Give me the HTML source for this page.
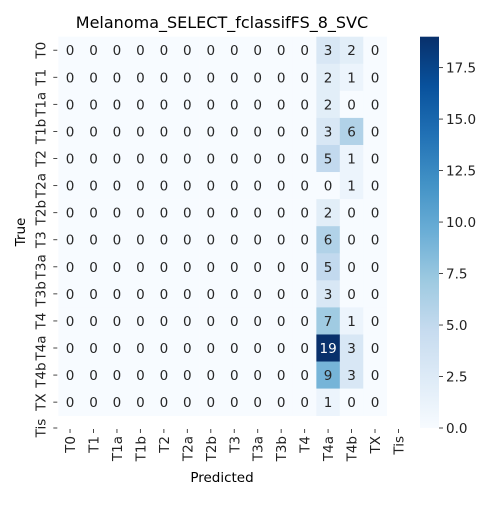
<!DOCTYPE html>
<html><head><meta charset="utf-8"><style>
body{margin:0;background:#fff;width:500px;height:500px;overflow:hidden}
svg text{font-family:"DejaVu Sans","Liberation Sans",sans-serif;}
</style></head><body>
<svg id="chart" width="500" height="500" xmlns="http://www.w3.org/2000/svg">
<defs><linearGradient id="cbg" x1="0" y1="1" x2="0" y2="0">
<stop offset="0" stop-color="#f7fbff"/><stop offset="0.125" stop-color="#deebf7"/><stop offset="0.25" stop-color="#c6dbef"/><stop offset="0.375" stop-color="#9ecae1"/><stop offset="0.5" stop-color="#6baed6"/><stop offset="0.625" stop-color="#4292c6"/><stop offset="0.75" stop-color="#2171b5"/><stop offset="0.875" stop-color="#08519c"/><stop offset="1" stop-color="#08306b"/></linearGradient></defs>
<text x="222" y="28" font-size="16" text-anchor="middle">Melanoma_SELECT_fclassifFS_8_SVC</text>
<text x="222" y="482" font-size="13.5" text-anchor="middle">Predicted</text>
<text transform="translate(25,232) rotate(-90)" font-size="13.5" text-anchor="middle">True</text>
<g id="cells"></g><g id="ticks"></g>
<rect x="420" y="36.7" width="19" height="391.3" fill="url(#cbg)"/>
<g id="cbticks"></g>
</svg>
<script>
const labels=["T0","T1","T1a","T1b","T2","T2a","T2b","T3","T3a","T3b","T4","T4a","T4b","TX","Tis"];
const colT4a=[3,2,2,3,5,0,2,6,5,3,7,19,9,1];
const colT4b=[2,1,0,6,1,1,0,0,0,0,1,3,3,0];
const cbTicks=[0,2.5,5,7.5,10,12.5,15,17.5];
const vmax=19;
const NS="http://www.w3.org/2000/svg";
const x0=58.3,y0=36.7,cw=23.46,rh=27.07;
const stops=[[247,251,255],[222,235,247],[198,219,239],[158,202,225],[107,174,214],[66,146,198],[33,113,181],[8,81,156],[8,48,107]];
function color(v){let t=Math.max(0,Math.min(1,v/vmax))*8;let i=Math.min(7,Math.floor(t)),f=t-i;const a=stops[i],b=stops[i+1];return `rgb(${a.map((c,k)=>Math.round(c+(b[k]-c)*f)).join(",")})`;}
function mk(tag,at,p){const e=document.createElementNS(NS,tag);for(const k in at)e.setAttribute(k,at[k]);p.appendChild(e);return e;}
const xs=i=>x0+(i+0.5)*cw, ys=j=>y0+(j+0.5)*rh;
const cells=document.getElementById('cells');
const n=14;
for(let r=0;r<n;r++)for(let c=0;c<n;c++){
 const v=c===11?colT4a[r]:c===12?colT4b[r]:0;
 const rc=mk('rect',{x:x0+c*cw,y:y0+r*rh,width:cw+0.3,height:rh+0.3,fill:color(v)},cells);
 
 
 const t=mk('text',{x:xs(c),y:ys(r)+5,'font-size':'13.5','text-anchor':'middle',fill:v/vmax>0.6?'#fff':'#262626'},cells);
 
 
 t.textContent=v;
}
const tk=document.getElementById('ticks');
labels.forEach((l,i)=>{
 const yy=i<14?ys(i):428;
 mk('line',{x1:x0-5,x2:x0-1,y1:yy,y2:yy,stroke:'#333','stroke-width':0.9},tk);
 const t=mk('text',{transform:`translate(${x0-13},${yy}) rotate(-90)`,'font-size':'13.5','text-anchor':'middle',fill:'#222'},tk);
 
 
 t.textContent=l;
 const xx=xs(i);
 mk('line',{x1:xx,x2:xx,y1:429,y2:433,stroke:'#333','stroke-width':0.9},tk);
 const u=mk('text',{transform:`translate(${xx+5},${436}) rotate(-90)`,'font-size':'13.5','text-anchor':'end',fill:'#222'},tk);
 
 
 u.textContent=l;
});
const cb=document.getElementById('cbticks');
const cy=v=>428-(v/vmax)*391.3;
cbTicks.forEach(v=>{
 mk('line',{x1:439,x2:443,y1:cy(v),y2:cy(v),stroke:'#333','stroke-width':0.9},cb);
 const t=mk('text',{x:446,y:cy(v)+5,'font-size':'13.5',fill:'#222'},cb);
 
 
 t.textContent=v.toFixed(1);
});
</script>
</body></html>
